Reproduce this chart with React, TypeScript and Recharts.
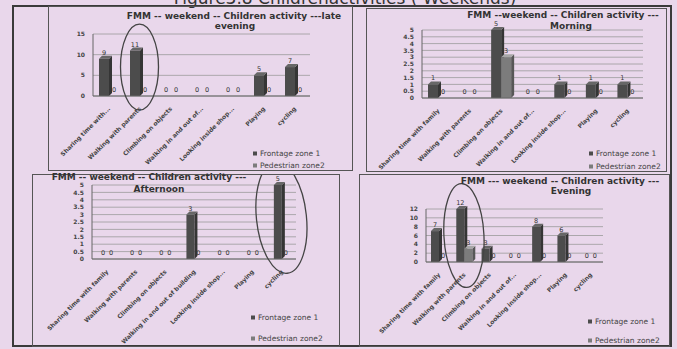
import React from "react";
import { BarChart, Bar, XAxis, YAxis, CartesianGrid, LabelList, ReferenceDot } from "recharts";

// ---------- data ----------
const lateCategories = ["Sharing time with...", "Walking with parents", "Climbing on objects", "Walking in and out of...", "Looking inside shop...", "Playing", "cycling"];
const lateFrontage = [9, 11, 0, 0, 0, 5, 7];
const latePedestrian = [0, 0, 0, 0, 0, 0, 0];
const lateTicks = [0, 5, 10, 15];

const morningCategories = ["Sharing time with family", "Walking with parents", "Climbing on objects", "Walking in and out of...", "Looking inside shop...", "Playing", "cycling"];
const morningFrontage = [1, 0, 5, 0, 1, 1, 1];
const morningPedestrian = [0, 0, 3, 0, 0, 0, 0];
const morningTicks = [0, 0.5, 1, 1.5, 2, 2.5, 3, 3.5, 4, 4.5, 5];

const afternoonCategories = ["Sharing time with family", "Walking with parents", "Climbing on objects", "Walking in and out of building", "Looking inside shop...", "Playing", "cycling"];
const afternoonFrontage = [0, 0, 0, 3, 0, 0, 5];
const afternoonPedestrian = [0, 0, 0, 0, 0, 0, 0];
const afternoonTicks = [0, 0.5, 1, 1.5, 2, 2.5, 3, 3.5, 4, 4.5, 5];

const eveningCategories = ["Sharing time with family", "Walking with parents", "Climbing on objects", "Walking in and out of...", "Looking inside shop...", "Playing", "cycling"];
const eveningFrontage = [7, 12, 3, 0, 8, 6, 0];
const eveningPedestrian = [0, 3, 0, 0, 0, 0, 0];
const eveningTicks = [0, 2, 4, 6, 8, 10, 12];

const seriesNames = ["Frontage zone 1", "Pedestrian zone2"];
const figureTitle = "Figure3.8 Childrenactivities ( Weekends)";

const build = (cats: string[], a: number[], b: number[]) =>
  cats.map((c, i) => ({ name: c, frontage: a[i], pedestrian: b[i] }));

// ---------- styles ----------
const BG = "#e9d7eb";
const DARK = "#4c4c4c";
const MID = "#7c7c7c";
const FONT = "'DejaVu Sans', 'Liberation Sans', sans-serif";

const shade = (hex: string, f: number) => {
  const n = parseInt(hex.slice(1), 16);
  const r = Math.min(255, Math.round(((n >> 16) & 255) * f));
  const g = Math.min(255, Math.round(((n >> 8) & 255) * f));
  const bl = Math.min(255, Math.round((n & 255) * f));
  return `rgb(${r},${g},${bl})`;
};

const Bar3D = (props: any) => {
  const { x, y, width, height, fill } = props;
  if (!height || height <= 0) return null;
  const d = 3;
  return (
    <g>
      <polygon
        points={`${x + width},${y} ${x + width + d},${y - d} ${x + width + d},${y + height - d} ${x + width},${y + height}`}
        fill={shade(fill, 0.7)}
      />
      <polygon
        points={`${x},${y} ${x + d},${y - d} ${x + width + d},${y - d} ${x + width},${y}`}
        fill={shade(fill, 1.35)}
      />
      <rect x={x} y={y} width={width} height={height} fill={fill} />
    </g>
  );
};

const XTick = (props: any) => {
  const { x, y, payload } = props;
  return (
    <g transform={`translate(${x},${y + 3}) rotate(-45)`}>
      <text x={0} y={0} dy="0.5em" textAnchor="end" fontSize={6} fill="#444" fontFamily={FONT} fontWeight={700}>
        {payload.value}
      </text>
    </g>
  );
};

type PanelProps = {
  left: number; top: number; width: number; height: number;
  data: any[]; ticks: number[]; domain: [number, number];
  mTop: number; mRight: number; yWidth: number; xHeight: number;
  barSize: number;
  title1: string; title2: string; tx1: number; tx2: number; ty1: number; ty2: number;
  lx: number; ly1: number; ly2: number;
  ellipse?: { cat: string; val: number; rx: number; ry: number; rot: number };
};

const tickStyle = { fontSize: 6, fill: "#444", fontFamily: FONT, fontWeight: 700 };
const valueStyle = { fontSize: 6.5, fontFamily: FONT };

const Panel = (p: PanelProps) => (
  <div style={{ position: "absolute", left: p.left, top: p.top, width: p.width, height: p.height, border: "1px solid #555", boxSizing: "border-box" }}>
    <BarChart
      width={p.width - 2}
      height={p.height - 2}
      data={p.data}
      margin={{ top: p.mTop, right: p.mRight, left: 0, bottom: 0 }}
      barGap={0}
      style={{ overflow: "visible" }}
    >
      <CartesianGrid vertical={false} stroke="#9a9a9a" strokeWidth={0.8} />
      <XAxis
        dataKey="name"
        interval={0}
        height={p.xHeight}
        tickLine={false}
        axisLine={{ stroke: "#666" }}
        tick={<XTick />}
      />
      <YAxis
        width={p.yWidth}
        ticks={p.ticks}
        domain={p.domain}
        interval={0}
        tickLine={false}
        axisLine={{ stroke: "#666" }}
        tick={tickStyle}
      />
      <Bar dataKey="frontage" fill={DARK} barSize={p.barSize} isAnimationActive={false} shape={Bar3D}>
        <LabelList dataKey="frontage" position="top" offset={4} fill="#333" style={valueStyle} />
      </Bar>
      <Bar dataKey="pedestrian" fill={MID} barSize={p.barSize} isAnimationActive={false} shape={Bar3D}>
        <LabelList dataKey="pedestrian" position="top" offset={4} fill="#333" style={valueStyle} />
      </Bar>
      {p.ellipse && (
        <ReferenceDot
          x={p.ellipse.cat}
          y={p.ellipse.val}
          r={1}
          ifOverflow="visible"
          shape={(s: any) => (
            <ellipse
              cx={s.cx}
              cy={s.cy}
              rx={p.ellipse!.rx}
              ry={p.ellipse!.ry}
              fill="none"
              stroke="#444"
              strokeWidth={1.3}
              transform={`rotate(${p.ellipse!.rot} ${s.cx} ${s.cy})`}
            />
          )}
        />
      )}
    </BarChart>
    <div style={{ position: "absolute", left: p.tx1, top: p.ty1, transform: "translate(-50%,-50%)", whiteSpace: "nowrap", fontFamily: FONT, fontWeight: 700, fontSize: 9, color: "#333" }}>{p.title1}</div>
    <div style={{ position: "absolute", left: p.tx2, top: p.ty2, transform: "translate(-50%,-50%)", whiteSpace: "nowrap", fontFamily: FONT, fontWeight: 700, fontSize: 9, color: "#333" }}>{p.title2}</div>
    {[p.ly1, p.ly2].map((ly, i) => (
      <div key={i} style={{ position: "absolute", left: p.lx, top: ly, transform: "translateY(-50%)", whiteSpace: "nowrap", fontFamily: FONT, fontSize: 7.5, color: "#444", display: "flex", alignItems: "center" }}>
        <span style={{ display: "inline-block", width: 4, height: 4, background: i === 0 ? DARK : MID, marginRight: 3 }} />
        {seriesNames[i]}
      </div>
    ))}
  </div>
);

export default function App() {
  return (
    <div style={{ position: "absolute", left: 0, top: 0, width: 677, height: 349, background: BG, overflow: "hidden" }}>
      <div style={{ position: "absolute", left: 345, top: -12, transform: "translateX(-50%)", whiteSpace: "nowrap", fontFamily: "'DejaVu Sans', sans-serif", fontSize: 17, color: "#333" }}>{figureTitle}</div>
      <div style={{ position: "absolute", left: 12, top: 5, width: 660, height: 342, border: "2px solid #3a3a3a", boxSizing: "border-box" }} />
      <Panel
        left={48} top={6} width={305} height={165}
        data={build(lateCategories, lateFrontage, latePedestrian)} ticks={lateTicks} domain={[0, 15]}
        mTop={27} mRight={42} yWidth={44} xHeight={74} barSize={10}
        title1="FMM -- weekend -- Children activity ---late" title2="evening" tx1={185} tx2={186} ty1={9} ty2={19}
        lx={204} ly1={146} ly2={158}
        ellipse={{ cat: "Walking with parents", val: 7, rx: 19, ry: 43, rot: 0 }}
      />
      <Panel
        left={366} top={8} width={301} height={164}
        data={build(morningCategories, morningFrontage, morningPedestrian)} ticks={morningTicks} domain={[0, 5]}
        mTop={21} mRight={23} yWidth={55} xHeight={73} barSize={10}
        title1="FMM --weekend -- Children activity ---" title2="Morning" tx1={196} tx2={204} ty1={6} ty2={17}
        lx={222} ly1={144} ly2={157}
      />
      <Panel
        left={32} top={174} width={308} height={173}
        data={build(afternoonCategories, afternoonFrontage, afternoonPedestrian)} ticks={afternoonTicks} domain={[0, 5]}
        mTop={10} mRight={43} yWidth={59} xHeight={87} barSize={8}
        title1="FMM -- weekend -- Children activity ---" title2="Afternoon" tx1={116} tx2={126} ty1={2} ty2={14}
        lx={218} ly1={142} ly2={163}
        ellipse={{ cat: "cycling", val: 2.8, rx: 25, ry: 56, rot: -6 }}
      />
      <Panel
        left={359} top={174} width={311} height={173}
        data={build(eveningCategories, eveningFrontage, eveningPedestrian)} ticks={eveningTicks} domain={[0, 12]}
        mTop={34} mRight={66} yWidth={66} xHeight={84} barSize={8}
        title1="FMM --- weekend -- Children activity ---" title2="Evening" tx1={200} tx2={211} ty1={6} ty2={16}
        lx={228} ly1={146} ly2={165}
        ellipse={{ cat: "Walking with parents", val: 6, rx: 20, ry: 52, rot: -3 }}
      />
    </div>
  );
}
